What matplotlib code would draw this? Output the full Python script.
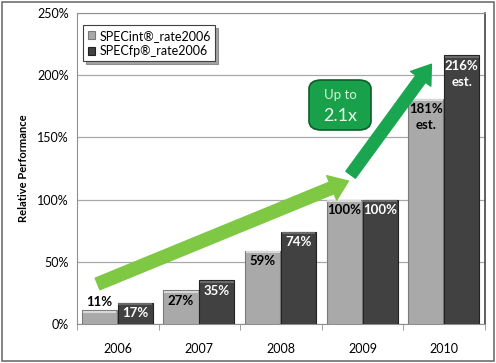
import matplotlib.pyplot as plt
import matplotlib.patches as mpatches
import numpy as np

plt.rcParams['font.family'] = ['Lato', 'DejaVu Sans']

years = ['2006', '2007', '2008', '2009', '2010']
specint = [11, 27, 59, 100, 181]
specfp = [17, 35, 74, 100, 216]
int_labels = ['11%', '27%', '59%', '100%', '181%\nest.']
fp_labels = ['17%', '35%', '74%', '100%', '216%\nest.']

W, H = 496, 363
fig = plt.figure(figsize=(W / 100, H / 100), dpi=100)
ax = fig.add_axes([77 / W, 1 - 324 / H, (485 - 77) / W, (324 - 13) / H])


def px(x, y):
    # pixel position (from top left) -> figure fraction
    return (x / W, 1 - y / H)


x = np.arange(len(years))
bw = 0.43
b1 = ax.bar(x - 0.225, specint, bw, color='#a9a9a9', edgecolor='#7a7a7a', linewidth=0.8, zorder=3)
b2 = ax.bar(x + 0.215, specfp, bw, color='#414141', edgecolor='#222222', linewidth=0.8, zorder=3)

# light bevel at top of bars
for bars, c in ((b1, '#d8d8d8'), (b2, '#6a6a6a')):
    for r in bars:
        ax.plot([r.get_x() + 0.02, r.get_x() + r.get_width() - 0.02],
                [r.get_height() - 1.2] * 2, color=c, lw=1.5, zorder=4)

# value labels
for i, (v, lab) in enumerate(zip(specint, int_labels)):
    if v < 20:
        ax.text(x[i] - 0.225, v + 1.5, lab, ha='center', va='bottom',
                fontsize=9.5, fontweight='bold', color='black', zorder=5)
    else:
        ax.text(x[i] - 0.225, v - 3.5, lab, ha='center', va='top',
                fontsize=9.5, fontweight='bold', color='black', zorder=5, linespacing=1.4)
for i, (v, lab) in enumerate(zip(specfp, fp_labels)):
    ax.text(x[i] + 0.215, v - 3.5, lab, ha='center', va='top',
            fontsize=9.5, fontweight='bold', color='white', zorder=5, linespacing=1.4)

ax.set_xlim(-0.5, 4.5)
ax.set_ylim(0, 250)
ax.set_yticks(np.arange(0, 251, 50))
ax.set_yticklabels([f'{t}%' for t in range(0, 251, 50)])
ax.set_xticks(x)
ax.set_xticklabels(years)
ax.set_xticks(np.arange(-0.5, 4.6, 1), minor=True)
ax.tick_params(axis='x', which='major', length=0, pad=14, labelsize=9)
ax.tick_params(axis='x', which='minor', length=4, color='#909090')
ax.tick_params(axis='y', length=0, pad=6, labelsize=9)
ax.yaxis.grid(True, color='#a8a8a8', lw=0.9, zorder=0)
for s in ['left', 'bottom', 'top']:
    ax.spines[s].set_color('#909090')
ax.spines['right'].set_color('#444444')
ax.spines['right'].set_linewidth(1.2)

ax.set_ylabel('Relative Performance', fontsize=8, fontweight='bold', labelpad=6)

leg = ax.legend([b1, b2], ['SPECint\u00ae_rate2006', 'SPECfp\u00ae_rate2006'],
                loc='upper left', bbox_to_anchor=(0.0, 0.98), fontsize=9,
                frameon=True, fancybox=False, shadow=True, handlelength=0.6,
                handleheight=0.6, handletextpad=0.35, borderpad=0.35, labelspacing=0.25)
leg.get_frame().set_edgecolor('#404040')
leg.get_frame().set_linewidth(0.8)

# arrows
light = mpatches.FancyArrowPatch(px(95, 285), px(351, 180),
                                 arrowstyle=mpatches.ArrowStyle.Simple(head_length=13, head_width=19, tail_width=9),
                                 transform=fig.transFigure, color='#7ec843', zorder=6)
fig.patches.append(light)
dark = mpatches.FancyArrowPatch(px(349, 177), px(433, 62),
                                arrowstyle=mpatches.ArrowStyle.Simple(head_length=13, head_width=18, tail_width=8.5),
                                transform=fig.transFigure, color='#1aa650', zorder=6)
fig.patches.append(dark)

# callout box
bx0, by0 = px(309, 130)
bx1, by1 = px(371, 80)
box = mpatches.FancyBboxPatch((bx0, by0), bx1 - bx0, by1 - by0,
                              boxstyle='round,pad=0,rounding_size=0.025',
                              transform=fig.transFigure, facecolor='#19a04a',
                              edgecolor='#0d5e2a', lw=1.2, zorder=6)
fig.patches.append(box)
fig.text(*px(340, 95), 'Up to', ha='center', va='center', fontsize=9.5, color='#d8f5d8', zorder=7)
fig.text(*px(340, 116), '2.1x', ha='center', va='center', fontsize=13, color='#eefaee', zorder=7)

# outer frame
frame = mpatches.Rectangle(px(2, 361), 492 / W, 359 / H, transform=fig.transFigure,
                           fill=False, edgecolor='#707070', lw=1.2, zorder=10)
fig.patches.append(frame)

fig.savefig('out.png', dpi=100)
